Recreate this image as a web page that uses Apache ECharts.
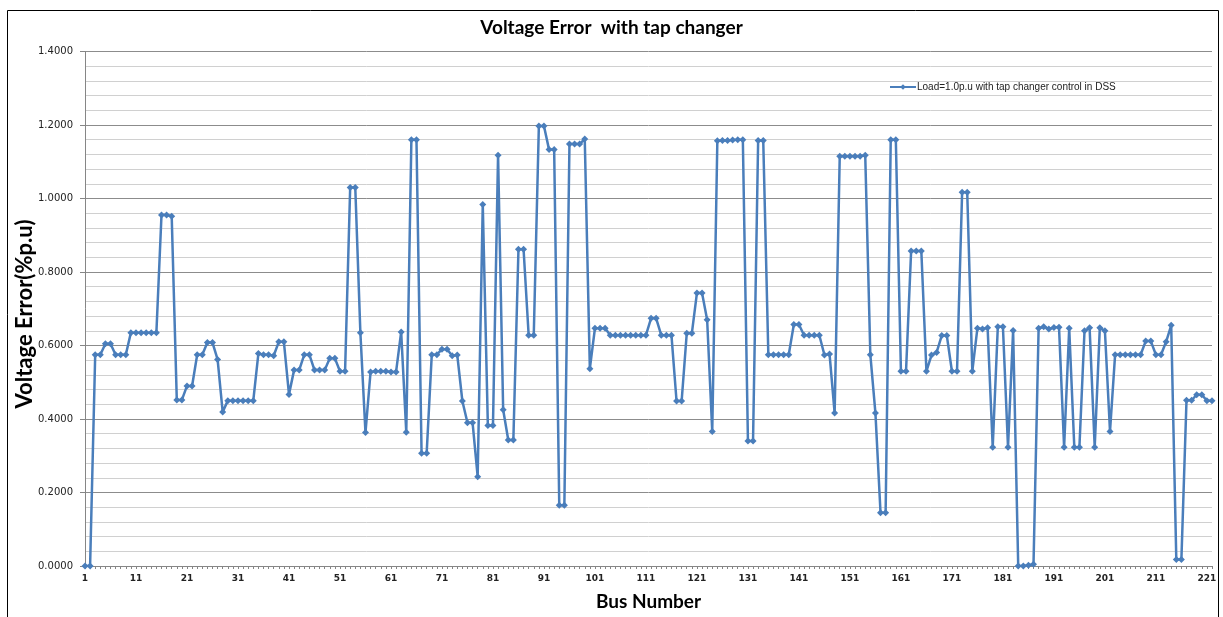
<!DOCTYPE html>
<html>
<head>
<meta charset="utf-8">
<script src="https://cdn.jsdelivr.net/npm/echarts@6/dist/echarts.min.js"></script>
<style>
html,body{margin:0;padding:0;background:#fff;}
#chart{width:1223px;height:617px;}
</style>
</head>
<body>
<div id="chart"></div>
<script>
// Bus numbers 1..222
const busNumbers = [];
for (let i = 1; i <= 222; i++) busNumbers.push(String(i));

// Voltage error (%p.u)
const errorValues = [
  0, 0, 0.575, 0.575, 0.605, 0.605, 0.575, 0.575, 0.575,
  0.635, 0.635, 0.635, 0.635, 0.635, 0.635,
  0.955, 0.955, 0.952,
  0.452, 0.452, 0.49, 0.49, 0.575, 0.575, 0.608, 0.608, 0.562, 0.419,
  0.45, 0.45, 0.45, 0.45, 0.45, 0.45,
  0.578, 0.575, 0.575, 0.572,
  0.61, 0.61, 0.467, 0.533, 0.533, 0.575, 0.575, 0.533, 0.533, 0.533, 0.565, 0.565, 0.53, 0.53,
  1.03, 1.03, 0.635, 0.363,
  0.528, 0.53, 0.53, 0.53, 0.528, 0.528,
  0.637, 0.364, 1.16, 1.16, 0.307, 0.307, 0.575, 0.575, 0.59, 0.59,
  0.572, 0.574, 0.449, 0.39, 0.39, 0.243, 0.984, 0.382, 0.382, 1.118,
  0.425, 0.343, 0.343, 0.862, 0.862, 0.628, 0.628, 1.197, 1.197, 1.133,
  1.133, 0.165, 0.165, 1.148, 1.148, 1.148, 1.162, 0.537,
  0.647, 0.647, 0.647,
  0.628, 0.628, 0.628, 0.628, 0.628, 0.628, 0.628, 0.628,
  0.674, 0.674, 0.628, 0.628, 0.628, 0.449, 0.449, 0.633, 0.633, 0.743, 0.743, 0.67, 0.366,
  1.157, 1.158, 1.158, 1.159, 1.16, 1.16,
  0.34, 0.34, 1.158, 1.158,
  0.575, 0.575, 0.575, 0.575, 0.575,
  0.657, 0.657,
  0.628, 0.628, 0.628, 0.628,
  0.574, 0.577, 0.416,
  1.115, 1.115, 1.115, 1.115, 1.115, 1.118,
  0.575, 0.416, 0.145, 0.145, 1.16, 1.16, 0.53, 0.53, 0.857, 0.857,
  0.857, 0.53, 0.574, 0.581, 0.627, 0.627, 0.53, 0.53, 1.017, 1.017,
  0.53, 0.647, 0.645, 0.648, 0.323, 0.651, 0.651, 0.323, 0.641,
  0, 0, 0.002, 0.005,
  0.647, 0.651, 0.645, 0.649, 0.65, 0.323, 0.647, 0.323, 0.323, 0.64, 0.648, 0.323, 0.648, 0.64, 0.366,
  0.575, 0.575, 0.575, 0.575, 0.575, 0.575,
  0.612, 0.612, 0.575, 0.575, 0.61, 0.655, 0.018, 0.018, 0.451, 0.451, 0.466, 0.466, 0.45, 0.45
];

const seriesName = 'Load=1.0p.u with tap changer control in DSS';
const chartTitle = 'Voltage Error  with tap changer';
const xAxisTitle = 'Bus Number';
const yAxisTitle = 'Voltage Error(%p.u)';

const chart = echarts.init(document.getElementById('chart'), null, {renderer: 'canvas'});
const lineColor = '#4A7EBB';

chart.setOption({
  animation: false,
  backgroundColor: '#ffffff',
  title: {
    text: chartTitle,
    left: 'center',
    top: 13,
    textStyle: {fontFamily: 'Lato', fontWeight: 'bold', fontSize: 19, color: '#000'}
  },
  legend: {
    left: 884,
    top: 77,
    itemWidth: 26,
    itemHeight: 7,
    itemGap: 4,
    textStyle: {fontFamily: 'Liberation Sans', fontSize: 10, color: '#222', padding: [0, 0, 0, -4]},
    data: [seriesName]
  },
  graphic: [{
    type: 'rect',
    shape: {x: 7.5, y: 10.5, width: 1211, height: 620},
    style: {fill: 'none', stroke: '#000', lineWidth: 1},
    silent: true,
    z: -1
  }, {
    type: 'text',
    x: 25,
    y: 314,
    rotation: Math.PI / 2,
    style: {
      text: yAxisTitle,
      fontFamily: 'Lato',
      fontWeight: 'bold',
      fontSize: 22,
      fill: '#000',
      align: 'center',
      verticalAlign: 'middle'
    },
    silent: true
  }],
  grid: {left: 85, right: 11, top: 51.5, bottom: 51, containLabel: false, outerBoundsMode: 'none'},
  xAxis: {
    type: 'category',
    data: busNumbers,
    boundaryGap: false,
    name: xAxisTitle,
    nameLocation: 'middle',
    nameGap: 26,
    nameTextStyle: {fontFamily: 'Lato', fontWeight: 'bold', fontSize: 19, color: '#000'},
    axisLine: {lineStyle: {color: '#868686', width: 1}},
    axisTick: {show: true, interval: 0, length: 3, lineStyle: {color: '#868686'}},
    axisLabel: {
      interval: function (idx) { return idx % 10 === 0; },
      margin: 8,
      fontFamily: 'DejaVu Sans',
      fontWeight: 'bold',
      fontSize: 9,
      color: '#222'
    },
    splitLine: {show: false}
  },
  yAxis: {
    type: 'value',
    min: 0,
    max: 1.4,
    interval: 0.2,
    axisLine: {show: true, lineStyle: {color: '#868686', width: 1}},
    axisTick: {show: true, length: 5, lineStyle: {color: '#868686'}},
    axisLabel: {
      margin: 12,
      fontFamily: 'DejaVu Sans',
      fontSize: 10,
      color: '#222',
      formatter: function (v) { return v.toFixed(4); }
    },
    splitLine: {show: true, lineStyle: {color: '#8C8C8C', width: 1}},
    minorTick: {show: false, splitNumber: 5},
    minorSplitLine: {show: true, lineStyle: {color: '#D0D0D0', width: 1}}
  },
  series: [{
    name: seriesName,
    type: 'line',
    data: errorValues,
    symbol: 'diamond',
    symbolSize: 7,
    showAllSymbol: true,
    lineStyle: {color: lineColor, width: 2.5},
    itemStyle: {color: lineColor},
    emphasis: {disabled: true}
  }]
});
</script>
</body>
</html>
